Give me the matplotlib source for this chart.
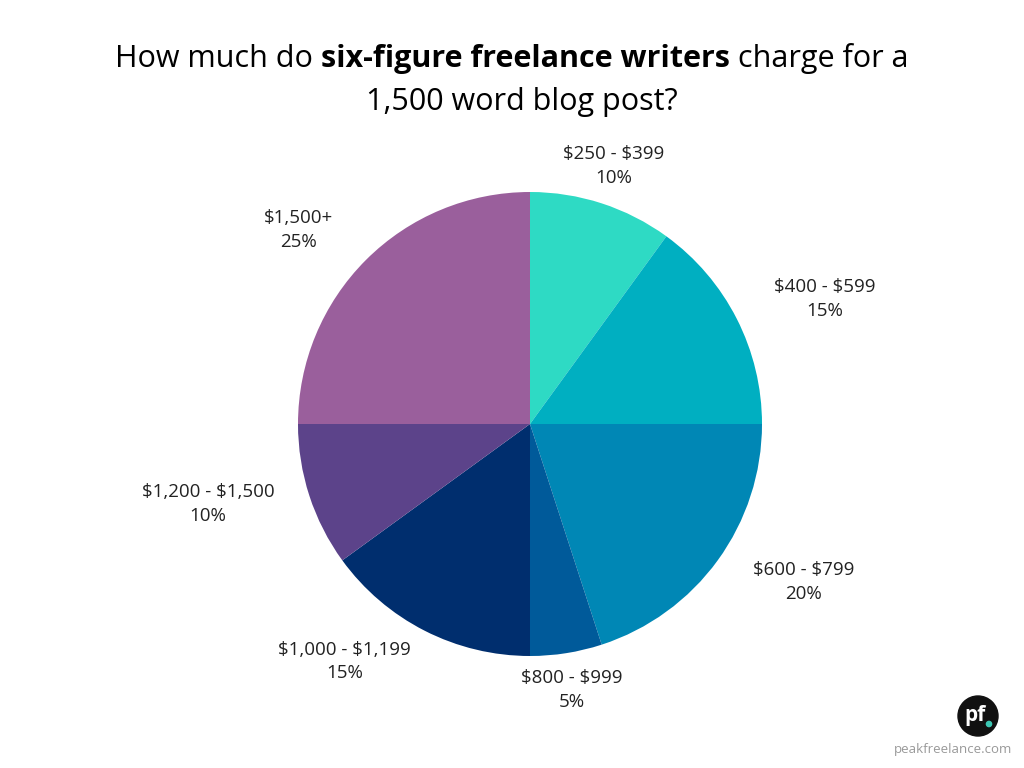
import matplotlib
matplotlib.use("Agg")
import matplotlib.pyplot as plt
import numpy as np

categories = ["$250 - $399", "$400 - $599", "$600 - $799", "$800 - $999",
              "$1,000 - $1,199", "$1,200 - $1,500", "$1,500+"]
shares = [10, 15, 20, 5, 15, 10, 25]
colors = ["#2EDAC4", "#00AFC1", "#0087B5", "#005A9A", "#002E6E", "#5C438A", "#9A5F9C"]

title_parts = [("How much do ", "normal"), ("six-figure freelance writers", "bold"),
               (" charge for a", "normal")]
title_line2 = "1,500 word blog post?"

# label placement styles (distance factor, angle nudge in degrees)
label_style = [(1.17, 0), (1.38, -4), (1.36, 6), (1.16, 0), (1.30, -11), (1.43, -4), (1.30, 5)]

FONT = "Open Sans"
W, H = 1024, 768
fig = plt.figure(figsize=(W / 100, H / 100), dpi=100)
ax = fig.add_axes([0, 0, 1, 1])
cx, cy, R = 530, H - 424, 232
wedges, _ = ax.pie(shares, colors=colors, startangle=90, counterclock=False,
                   radius=R, center=(cx, cy),
                   wedgeprops=dict(linewidth=0))
ax.set_xlim(0, W)
ax.set_ylim(0, H)
ax.set_aspect("equal")
ax.axis("off")

for w, cat, val, (d, nudge) in zip(wedges, categories, shares, label_style):
    mid = np.deg2rad((w.theta1 + w.theta2) / 2 + nudge)
    x = cx + R * d * np.cos(mid)
    y = cy + R * d * np.sin(mid)
    ax.text(x, y, f"{cat}\n{val}%", ha="center", va="center", fontsize=13.5,
            family=FONT, color="#222222", linespacing=1.4, parse_math=False)

# title line 1 with mixed weights, centered
fig.canvas.draw()
renderer = fig.canvas.get_renderer()
texts = []
for s, wt in title_parts:
    t = fig.text(0, 0, s, fontsize=22, fontweight=wt, family=FONT, color="black",
                 transform=None, va="baseline", ha="left", parse_math=False)
    texts.append(t)
widths = [t.get_window_extent(renderer).width for t in texts]
total = sum(widths)
x0 = W / 2 - total / 2
ybase = H - 67
for t, wd in zip(texts, widths):
    t.set_position((x0, ybase))
    x0 += wd
fig.text(W / 2 + 10, H - 110, title_line2, fontsize=22, family=FONT, color="black",
         transform=None, va="baseline", ha="center")

# logo
ax.add_patch(plt.Circle((978, H - 716), 20, color="#111111"))
ax.text(975, H - 716, "pf", color="white", fontsize=15, fontweight="bold",
        family=FONT, ha="center", va="center")
ax.add_patch(plt.Circle((989, H - 724), 2.6, color="#3CC8B4"))
ax.text(953, H - 750, "peakfreelance.com", color="#999999", fontsize=9.5,
        family=FONT, ha="center", va="center")

fig.savefig("out.png", dpi=100)
